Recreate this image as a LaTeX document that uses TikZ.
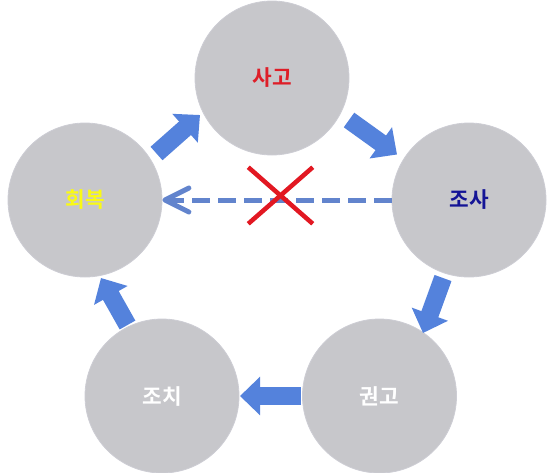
\documentclass[tikz,border=0pt]{standalone}
\usepackage{fontspec}
\setmainfont{Noto Sans CJK KR}[BoldFont={Noto Sans CJK KR Bold}]
\usetikzlibrary{arrows.meta,shapes.misc}
\definecolor{cgray}{RGB}{199,199,203}
\definecolor{cedge}{RGB}{205,205,212}
\definecolor{ablue}{RGB}{84,130,220}
\definecolor{dblue}{RGB}{98,132,205}
\definecolor{xred}{RGB}{226,24,34}
\definecolor{tred}{RGB}{222,30,40}
\definecolor{tblue}{RGB}{20,20,150}
\definecolor{tyellow}{RGB}{250,250,20}
\tikzset{
  stage/.style={circle, fill=cgray, draw=cedge, line width=0.6pt, minimum size=115.5pt, inner sep=0pt,
    font=\fontsize{16}{19}\selectfont\bfseries},
  blockarrow/.style={draw=ablue, line width=13.5pt, -{Triangle[width=28pt,length=15pt]}},
  dashline/.style={draw=dblue, line width=3.75pt, dash pattern=on 13.5pt off 6pt,
    -{Straight Barb[length=18pt,width=18pt,round]}},
  nomark/.style={draw=xred, cross out, line width=3.4pt, minimum width=45pt, minimum height=39pt, inner sep=0pt}
}
\begin{document}
\begin{tikzpicture}[x=0.75pt,y=-0.75pt]
\useasboundingbox (0,0) rectangle (548,472);
\node[stage, text=tred] (sago) at (272,78) {사고};
\node[stage, text=tblue] (josa) at (469,200) {조사};
\node[stage, text=tyellow] (hoebok) at (85,200) {회복};
\node[stage, text=white] (gwongo) at (379.5,396) {권고};
\node[stage, text=white] (jochi) at (162,396) {조치};
% arrow end points
\coordinate (a1t) at (156.5,153.5); \coordinate (a1h) at (200,115);
\coordinate (a2t) at (349,120);   \coordinate (a2h) at (397,154.5);
\coordinate (a3t) at (443,278);   \coordinate (a3h) at (423,333);
\coordinate (a4t) at (301,396);   \coordinate (a4h) at (240,396);
\coordinate (a5t) at (127.5,325); \coordinate (a5h) at (101,278);
\draw[blockarrow] (a1t) -- (a1h);
\draw[blockarrow] (a2t) -- (a2h);
\draw[blockarrow] (a3t) -- (a3h);
\draw[blockarrow] (a4t) -- (a4h);
\draw[blockarrow] (a5t) -- (a5h);
\draw[dashline] (josa.west) -- (hoebok.east);
\node[nomark] (cross) at (280.5,195.5) {};
\end{tikzpicture}
\end{document}
